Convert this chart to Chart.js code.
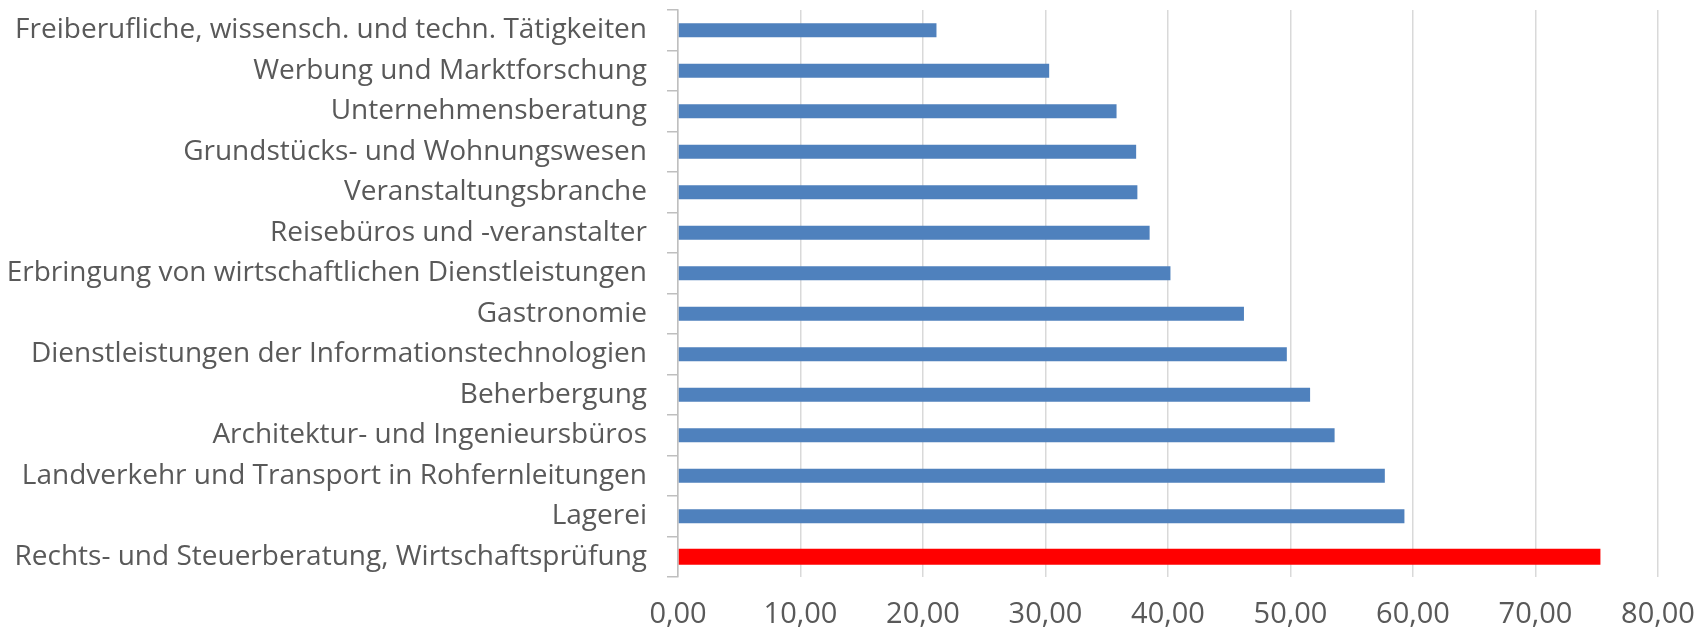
<!DOCTYPE html>
<html>
<head>
<meta charset="utf-8">
<script src="https://cdn.jsdelivr.net/npm/chart.js@4/dist/chart.umd.min.js"></script>
<style>
  html,body{margin:0;padding:0;background:#fff;}
  #wrap{width:1696px;height:635px;position:relative;}
</style>
</head>
<body>
<div id="wrap"><canvas id="chart"></canvas></div>
<script>
// categories, top to bottom
const categories = [
  'Freiberufliche, wissensch. und techn. Tätigkeiten',
  'Werbung und Marktforschung',
  'Unternehmensberatung',
  'Grundstücks- und Wohnungswesen',
  'Veranstaltungsbranche',
  'Reisebüros und -veranstalter',
  'Erbringung von wirtschaftlichen Dienstleistungen',
  'Gastronomie',
  'Dienstleistungen der Informationstechnologien',
  'Beherbergung',
  'Architektur- und Ingenieursbüros',
  'Landverkehr und Transport in Rohfernleitungen',
  'Lagerei',
  'Rechts- und Steuerberatung, Wirtschaftsprüfung'
];
const values = [21.1, 30.3, 35.8, 37.4, 37.5, 38.5, 40.2, 46.2, 49.7, 51.6, 53.6, 57.7, 59.3, 75.3];
// the highlighted branch
const highlight = 'Rechts- und Steuerberatung, Wirtschaftsprüfung';
const xTicks = [0, 10, 20, 30, 40, 50, 60, 70, 80];

const family = '"Open Sans", sans-serif';
const textColor = '#595959';

// fit font size to the label width seen in the reference
function fitSize(text, width){
  const c = document.createElement('canvas').getContext('2d');
  c.font = '100px ' + family;
  return Math.round(100 * width / c.measureText(text).width * 10) / 10;
}
const ySize = fitSize(highlight, 632);
const xSize = 29;

const blueData = categories.map((c,i)=> c===highlight ? null : values[i]);
const redData = categories.map((c,i)=> c===highlight ? values[i] : null);

new Chart(document.getElementById('chart'), {
  type: 'bar',
  data: {
    labels: categories,
    datasets: [
      {data: blueData, backgroundColor: '#4F81BD', barPercentage: 0.35, categoryPercentage: 1, grouped: false},
      {data: redData, backgroundColor: '#FF0000', barPercentage: 0.40, categoryPercentage: 1, grouped: false}
    ]
  },
  options: {
    indexAxis: 'y',
    responsive: true,
    maintainAspectRatio: false,
    animation: false,
    layout: {padding: {top: 10, right: 38, left: 0, bottom: 0}},
    plugins: {legend: {display: false}, tooltip: {enabled: false}},
    scales: {
      x: {
        min: 0, max: 80,
        afterBuildTicks: s => { s.ticks = xTicks.map(v=>({value: v})); },
        afterFit: s => { s.height = 58; s.paddingLeft = 0; s.paddingRight = 0; },
        border: {display: false},
        grid: {color: '#d9d9d9', lineWidth: 1.5, drawTicks: false},
        ticks: {
          padding: 20,
          color: textColor,
          font: {family: family, size: xSize},
          callback: v => v.toFixed(2).replace('.', ',')
        }
      },
      y: {
        afterFit: s => { s.width = 678; s.paddingTop = 0; s.paddingBottom = 0; },
        border: {display: true, color: '#bfbfbf', width: 1.5},
        grid: {offset: true, drawOnChartArea: false, drawTicks: true, tickLength: 11, color: '#bfbfbf', lineWidth: 1.5},
        ticks: {
          padding: 20,
          color: textColor,
          font: {family: family, size: ySize}
        }
      }
    }
  }
});
</script>
</body>
</html>
